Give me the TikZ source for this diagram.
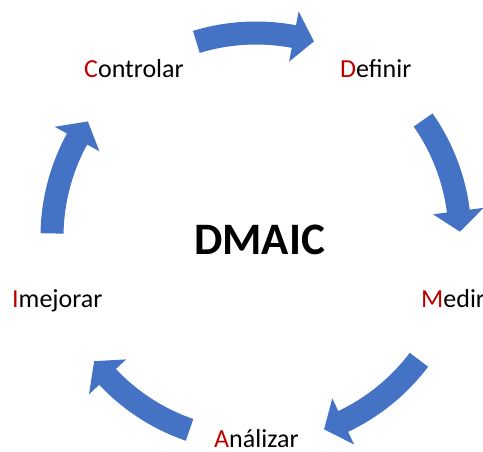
\documentclass[tikz,border=0pt]{standalone}
\usepackage{fontspec}
\setmainfont{Carlito}
\definecolor{dmblue}{HTML}{4472C4}
\definecolor{dmred}{HTML}{C00000}
\tikzset{
  paso/.style={anchor=base west, inner sep=0pt, font=\fontsize{26}{31}\selectfont},
  flecha/.style={fill=dmblue, draw=none}
}
\newcommand{\ini}[1]{\textcolor{dmred}{#1}}

\begin{document}
\begin{tikzpicture}[x=1pt,y=1pt]
\useasboundingbox (-256,-215) rectangle (227,237);
\foreach \a in {107,35,-37,-109,-181} {
  \pgfmathsetmacro{\b}{\a-33.5}
  \pgfmathsetmacro{\c}{\b+5.8}
  \fill[flecha] (\a:215.5) arc[start angle=\a, end angle=\c, radius=215.5]
    -- (\c:229.5) -- (\b:204) -- (\c:178.5) -- (\c:192.5)
    arc[start angle=\c, end angle=\a, radius=192.5] -- cycle;
}
\node[paso] (ctrl) at (-172,159) {\ini{C}ontrolar};
\node[paso] (def) at (84,159) {\ini{D}efinir};
\node[paso] (med) at (165,-71) {\ini{M}edir};
\node[paso] (mej) at (-244,-71) {\ini{I}mejorar};
\node[paso] (ana) at (-42,-211) {\ini{A}nálizar};
\node[anchor=base west, inner sep=0pt, font=\bfseries\fontsize{45}{54}\selectfont] (dmaic) at (-62,-18) {DMAIC};
\end{tikzpicture}
\end{document}
